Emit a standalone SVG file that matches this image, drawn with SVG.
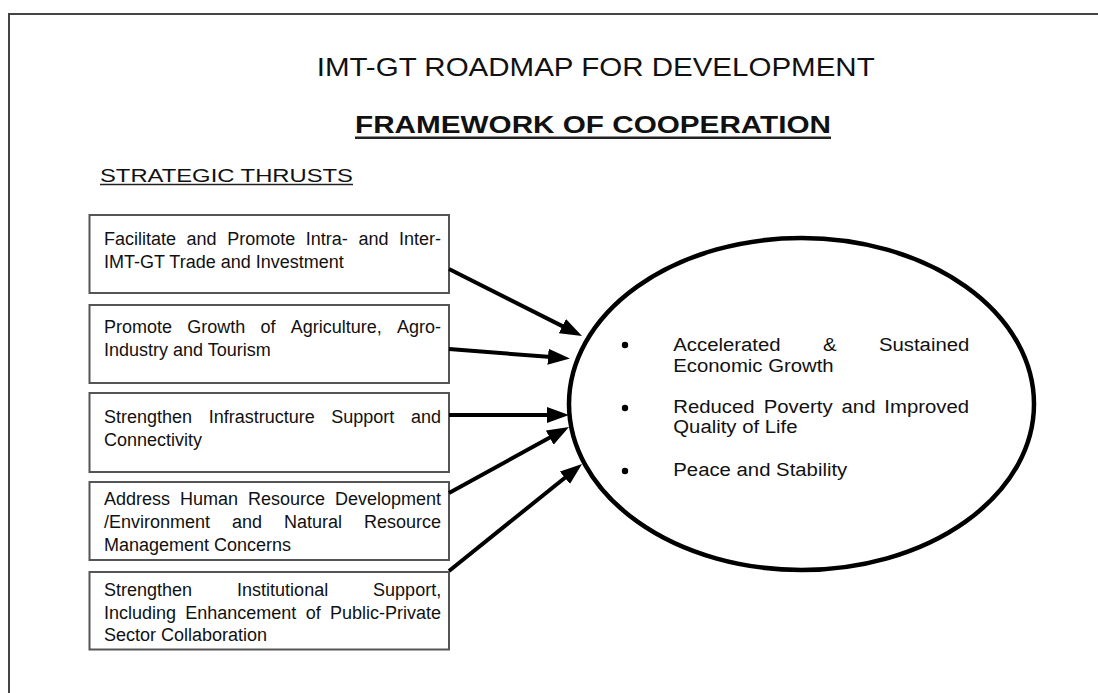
<svg xmlns="http://www.w3.org/2000/svg" width="1098" height="693" viewBox="0 0 1098 693">
<defs>
<style>
text{font-family:"Liberation Sans",Arial,sans-serif;fill:#111}
.box{fill:#fff;stroke:#555;stroke-width:2}
.bt{font-size:18px}
.et{font-size:18px}
.conn{fill:none;stroke:#000;stroke-width:4}
.ul{stroke:#222}
</style>
<marker id="ah" markerUnits="userSpaceOnUse" markerWidth="24" markerHeight="18" viewBox="0 0 24 18" refX="10" refY="9" orient="auto">
<path d="M0,1 L22,9 L0,17 z" fill="#000"/>
</marker>
</defs>
<rect x="0" y="0" width="1098" height="693" fill="#fff"/>
<path d="M9,693 V14 H1098" fill="none" stroke="#444" stroke-width="2"/>

<g id="titles">
<text x="316.7" y="76" font-size="26" textLength="558" lengthAdjust="spacingAndGlyphs">IMT-GT ROADMAP FOR DEVELOPMENT</text>
<text x="355" y="133.3" font-size="24" font-weight="bold" textLength="476" lengthAdjust="spacingAndGlyphs">FRAMEWORK OF COOPERATION</text>
<line class="ul" x1="355" y1="137.8" x2="831" y2="137.8" stroke-width="2.5"/>
<text x="100" y="181.5" font-size="19" textLength="253" lengthAdjust="spacingAndGlyphs">STRATEGIC THRUSTS</text>
<line class="ul" x1="100" y1="184.5" x2="353" y2="184.5" stroke-width="1.3"/>
</g>

<g id="thrust1">
<rect class="box" x="89.5" y="215" width="359.5" height="78"/>
<text class="bt" y="245"><tspan x="104">Facilitate</tspan><tspan x="186.6">and</tspan><tspan x="227.2">Promote</tspan><tspan x="305.8">Intra-</tspan><tspan x="358.4">and</tspan><tspan x="399">Inter-</tspan></text>
<text class="bt" x="104" y="267.5">IMT-GT Trade and Investment</text>
</g>

<g id="thrust2">
<rect class="box" x="89.5" y="305" width="359.5" height="78"/>
<text class="bt" y="333.3"><tspan x="104">Promote</tspan><tspan x="187.25">Growth</tspan><tspan x="260.5">of</tspan><tspan x="290.75">Agriculture,</tspan><tspan x="397">Agro-</tspan></text>
<text class="bt" x="104" y="355.7">Industry and Tourism</text>
</g>

<g id="thrust3">
<rect class="box" x="89.5" y="393" width="359.5" height="79"/>
<text class="bt" y="423.3"><tspan x="104">Strengthen</tspan><tspan x="208.7">Infrastructure</tspan><tspan x="331.3">Support</tspan><tspan x="410.9">and</tspan></text>
<text class="bt" x="104" y="446">Connectivity</text>
</g>

<g id="thrust4">
<rect class="box" x="89.5" y="482" width="359.5" height="78"/>
<text class="bt" y="505.3"><tspan x="104">Address</tspan><tspan x="180">Human</tspan><tspan x="248">Resource</tspan><tspan x="335">Development</tspan></text>
<text class="bt" y="528.3"><tspan x="104">/Environment</tspan><tspan x="232">and</tspan><tspan x="284">Natural</tspan><tspan x="364">Resource</tspan></text>
<text class="bt" x="104" y="551">Management Concerns</text>
</g>

<g id="thrust5">
<rect class="box" x="89.5" y="572" width="359.5" height="77.5"/>
<text class="bt" y="596"><tspan x="104">Strengthen</tspan><tspan x="237.1">Institutional</tspan><tspan x="373.1">Support,</tspan></text>
<text class="bt" y="619.3"><tspan x="104">Including</tspan><tspan x="185.3">Enhancement</tspan><tspan x="305.7">of</tspan><tspan x="330">Public-Private</tspan></text>
<text class="bt" x="104" y="641">Sector Collaboration</text>
</g>

<g id="outcomes">
<ellipse cx="801.5" cy="404" rx="232.5" ry="166" fill="none" stroke="#000" stroke-width="4.5"/>
<circle cx="625" cy="345" r="3.2" fill="#000"/>
<circle cx="625" cy="408" r="3.2" fill="#000"/>
<circle cx="625" cy="471" r="3.2" fill="#000"/>
<g transform="matrix(1.13 0 0 1 -87.53 0)">
<text class="et" y="351.5"><tspan x="673.3">Accelerated</tspan><tspan x="805.8">&amp;</tspan><tspan x="855.3">Sustained</tspan></text>
<text class="et" x="673.3" y="372.5">Economic Growth</text>
<text class="et" y="413.3"><tspan x="673.3">Reduced</tspan><tspan x="753.3">Poverty</tspan><tspan x="822.2">and</tspan><tspan x="860.1">Improved</tspan></text>
<text class="et" x="673.3" y="433">Quality of Life</text>
<text class="et" x="673.3" y="476">Peace and Stability</text>
</g>
</g>

<g id="connectors">
<path class="conn" d="M449,269 L571.3,330.6" marker-end="url(#ah)"/>
<path class="conn" d="M449,349 L558,357.6" marker-end="url(#ah)"/>
<path class="conn" d="M449,415 L557,415" marker-end="url(#ah)"/>
<path class="conn" d="M449,493 L558.5,432.8" marker-end="url(#ah)"/>
<path class="conn" d="M449,571 L572.7,471.5" marker-end="url(#ah)"/>
</g>
</svg>
